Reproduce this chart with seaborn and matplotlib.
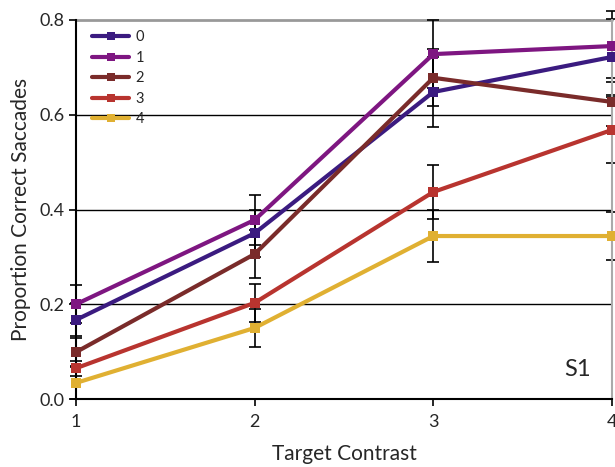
import numpy as np
import pandas as pd
import matplotlib
matplotlib.use("Agg")
import matplotlib.pyplot as plt
import seaborn as sns

# Target contrast levels and the five conditions
contrast = [1, 2, 3, 4]
conditions = ["0", "1", "2", "3", "4"]

# Proportion of correct saccades per condition
p0 = [0.167, 0.350, 0.648, 0.722]
p1 = [0.200, 0.378, 0.728, 0.745]
p2 = [0.099, 0.306, 0.678, 0.627]
p3 = [0.065, 0.203, 0.437, 0.568]
p4 = [0.034, 0.150, 0.344, 0.344]

# Standard errors
e0 = [0.035, 0.050, 0.073, 0.080]
e1 = [0.040, 0.052, 0.072, 0.075]
e2 = [0.030, 0.050, 0.060, 0.050]
e3 = [0.016, 0.040, 0.057, 0.070]
e4 = [0.034, 0.040, 0.055, 0.050]

colors = ["#3b1b80", "#7e1681", "#7a2b2a", "#b8342f", "#e0b032"]

values = [p0, p1, p2, p3, p4]
errors = [e0, e1, e2, e3, e4]

df = pd.DataFrame({
    "contrast": np.tile(contrast, len(conditions)),
    "prop": np.concatenate(values),
    "err": np.concatenate(errors),
    "cond": np.repeat(conditions, len(contrast)),
})

sns.set_theme(style="white")
plt.rcParams["font.family"] = ["Lato", "DejaVu Sans"]

fig = plt.figure(figsize=(6.15, 4.67), dpi=100)
ax = fig.add_axes([76 / 615, 1 - 399 / 467, 536 / 615, 379 / 467])

# error bars behind the lines
ax.errorbar(df["contrast"], df["prop"], yerr=df["err"], fmt="none",
            ecolor="black", elinewidth=1.2, capsize=4, capthick=1.2,
            zorder=2, clip_on=False)

sns.lineplot(data=df, x="contrast", y="prop", hue="cond",
             palette=colors, marker="s", markersize=7, markeredgewidth=0,
             linewidth=3, ax=ax, zorder=3, clip_on=False)

ax.set_xlim(1, 4)
ax.set_ylim(0, 0.8)
ax.set_xticks(contrast)
ax.set_xticklabels([str(c) for c in contrast])
ax.set_yticks([0.0, 0.2, 0.4, 0.6, 0.8])
ax.set_yticklabels(["0.0", "0.2", "0.4", "0.6", "0.8"])

# horizontal reference lines
for yv in [0.2, 0.4, 0.6]:
    ax.axhline(yv, color="black", linewidth=1.0, zorder=1)
ax.axhline(0.8, color="#999999", linewidth=2.0, zorder=1, clip_on=False)

for side in ["left", "bottom"]:
    ax.spines[side].set_color("black")
    ax.spines[side].set_linewidth(1.5)
ax.spines["top"].set_visible(False)
ax.spines["right"].set_color("#aaaaaa")
ax.spines["right"].set_linewidth(1.5)

ax.tick_params(axis="both", direction="out", length=5, width=1.2,
               color="black", labelsize=13, pad=3)
ax.tick_params(axis="x", pad=6)
ax.tick_params(left=True, bottom=True)

ax.set_xlabel("Target Contrast", fontsize=15, labelpad=10)
ax.set_ylabel("Proportion Correct Saccades", fontsize=15, labelpad=6)

ax.text(0.96, 0.05, "S1", transform=ax.transAxes, fontsize=17,
        ha="right", va="bottom")

leg = ax.legend(loc="upper left", frameon=False, fontsize=10.5, title=None,
                handlelength=2.6, handletextpad=0.4, labelspacing=0.45,
                borderaxespad=0.3, bbox_to_anchor=(0.01, 1.0))
for h in leg.get_lines():
    h.set_linewidth(3)
    h.set_markersize(6)

fig.savefig("out.png", dpi=100)
